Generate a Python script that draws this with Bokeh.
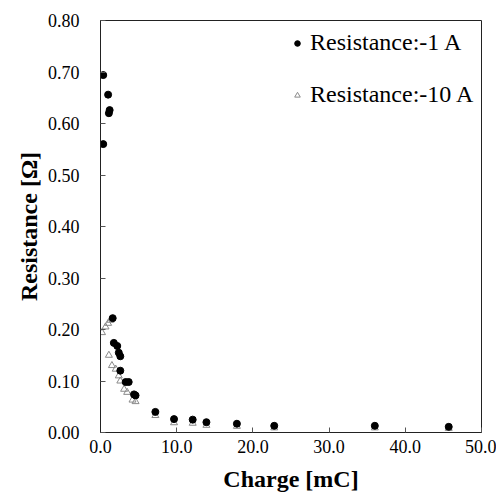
from bokeh.plotting import figure
from bokeh.models import Range1d, FixedTicker, PrintfTickFormatter, Legend, LegendItem
from bokeh.embed import file_html
from bokeh.resources import INLINE

# Resistance at -1 A (filled circles)
charge_1a = [0.36, 0.36, 1.0, 1.1, 1.2, 1.6, 1.75, 2.2, 2.4, 2.6, 2.6, 3.3, 3.7,
             4.4, 4.6, 7.2, 9.65, 12.1, 13.9, 17.9, 22.8, 36.0, 45.7]
res_1a = [0.694, 0.560, 0.656, 0.620, 0.626, 0.222, 0.174, 0.168, 0.155, 0.148,
          0.120, 0.098, 0.098, 0.074, 0.072, 0.040, 0.026, 0.025, 0.020, 0.017,
          0.013, 0.013, 0.011]

# Resistance at -10 A (open triangles)
charge_10a = [0.2, 0.66, 1.0, 1.3, 1.1, 1.5, 2.0, 2.4, 2.6, 3.1, 3.5, 4.2, 4.6,
              7.2, 9.65, 12.1, 13.9, 17.9, 22.8, 36.0, 45.7]
res_10a = [0.194, 0.205, 0.212, 0.218, 0.150, 0.130, 0.123, 0.110, 0.100, 0.084,
           0.078, 0.063, 0.060, 0.033, 0.019, 0.018, 0.014, 0.012, 0.009, 0.009,
           0.008]

x_ticks = [0, 10, 20, 30, 40, 50]
y_ticks = [0.0, 0.1, 0.2, 0.3, 0.4, 0.5, 0.6, 0.7, 0.8]

FONT = "Times New Roman"

p = figure(width=496, height=492, output_backend="svg", toolbar_location=None,
           x_range=Range1d(0, 50), y_range=Range1d(0, 0.8),
           min_border_left=100, min_border_top=20, min_border_right=15, min_border_bottom=60)
p.frame_width = 381
p.frame_height = 412

p.xgrid.visible = False
p.ygrid.visible = False
p.outline_line_color = "#222222"
p.outline_line_width = 1

tri = p.scatter(charge_10a, res_10a, marker="triangle", size=7, fill_color=None,
                line_color="#8a8a8a", line_width=1)
cir = p.scatter(charge_1a, res_1a, marker="circle", size=7, fill_color="black",
                line_color="black")

for ax in (p.xaxis[0], p.yaxis[0]):
    ax.major_tick_in = 5
    ax.major_tick_out = 0
    ax.minor_tick_in = 0
    ax.minor_tick_out = 0
    ax.axis_line_color = "#222222"
    ax.major_tick_line_color = "#555555"
    ax.major_label_text_font = FONT
    ax.major_label_text_font_size = "18px"
    ax.major_label_text_color = "black"
    ax.axis_label_text_font = FONT
    ax.axis_label_text_font_size = "24px"
    ax.axis_label_text_font_style = "bold"
    ax.axis_label_text_color = "black"

p.xaxis.ticker = FixedTicker(ticks=x_ticks)
p.yaxis.ticker = FixedTicker(ticks=y_ticks)
p.xaxis.formatter = PrintfTickFormatter(format="%.1f")
p.yaxis.formatter = PrintfTickFormatter(format="%.2f")
p.xaxis.axis_label = "Charge [mC]"
p.yaxis.axis_label = "Resistance [Ω]"
p.xaxis.major_label_standoff = 7
p.yaxis.major_label_standoff = 21
p.xaxis.axis_label_standoff = 10
p.yaxis.axis_label_standoff = 3

legend = Legend(items=[LegendItem(label="Resistance:-1 A", renderers=[cir]),
                       LegendItem(label="Resistance:-10 A", renderers=[tri])],
                location=(190, 324))
legend.border_line_alpha = 0
legend.background_fill_alpha = 0
legend.padding = 0
legend.margin = 0
legend.spacing = 25
legend.label_height = 24
legend.glyph_height = 24
legend.glyph_width = 14
legend.label_standoff = 6
legend.label_text_font = FONT
legend.label_text_font_size = "24px"
legend.label_text_color = "black"
p.add_layout(legend)

open("out.html", "w").write(file_html(p, INLINE))
